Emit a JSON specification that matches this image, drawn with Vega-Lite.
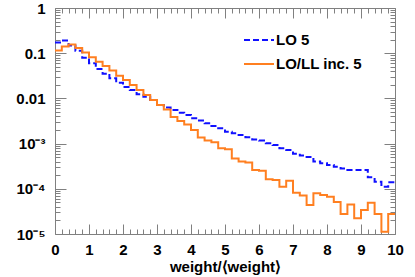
{
  "$schema": "https://vega.github.io/schema/vega-lite/v6.json",
  "width": 340,
  "height": 226,
  "autosize": {"type": "none"},
  "padding": {"left": 55, "top": 8, "right": 20, "bottom": 43},
  "background": "white",
  "config": {"view": {"stroke": null}, "font": "Liberation Sans"},
  "data": {"values": [
    {"x": 0, "v": 0.1725, "s": "LO 5"}, {"x": 0.2, "v": 0.191, "s": "LO 5"}, {"x": 0.4, "v": 0.148, "s": "LO 5"}, {"x": 0.6, "v": 0.1136, "s": "LO 5"}, {"x": 0.8, "v": 0.0795, "s": "LO 5"},
    {"x": 1.0, "v": 0.0598, "s": "LO 5"}, {"x": 1.2, "v": 0.0447, "s": "LO 5"}, {"x": 1.4, "v": 0.0352, "s": "LO 5"}, {"x": 1.6, "v": 0.0278, "s": "LO 5"}, {"x": 1.8, "v": 0.0223, "s": "LO 5"},
    {"x": 2.0, "v": 0.0179, "s": "LO 5"}, {"x": 2.2, "v": 0.0153, "s": "LO 5"}, {"x": 2.4, "v": 0.0123, "s": "LO 5"}, {"x": 2.6, "v": 0.0109, "s": "LO 5"}, {"x": 2.8, "v": 0.0092, "s": "LO 5"},
    {"x": 3.0, "v": 0.00715, "s": "LO 5"}, {"x": 3.2, "v": 0.0063, "s": "LO 5"}, {"x": 3.4, "v": 0.00554, "s": "LO 5"}, {"x": 3.6, "v": 0.00483, "s": "LO 5"}, {"x": 3.8, "v": 0.0043, "s": "LO 5"},
    {"x": 4.0, "v": 0.00363, "s": "LO 5"}, {"x": 4.2, "v": 0.00324, "s": "LO 5"}, {"x": 4.4, "v": 0.00281, "s": "LO 5"}, {"x": 4.6, "v": 0.00245, "s": "LO 5"}, {"x": 4.8, "v": 0.00218, "s": "LO 5"},
    {"x": 5.0, "v": 0.00183, "s": "LO 5"}, {"x": 5.2, "v": 0.00169, "s": "LO 5"}, {"x": 5.4, "v": 0.00155, "s": "LO 5"}, {"x": 5.6, "v": 0.00138, "s": "LO 5"}, {"x": 5.8, "v": 0.00124, "s": "LO 5"},
    {"x": 6.0, "v": 0.00117, "s": "LO 5"}, {"x": 6.2, "v": 0.00102, "s": "LO 5"}, {"x": 6.4, "v": 0.00093, "s": "LO 5"}, {"x": 6.6, "v": 0.00079, "s": "LO 5"}, {"x": 6.8, "v": 0.00072, "s": "LO 5"},
    {"x": 7.0, "v": 0.0006, "s": "LO 5"}, {"x": 7.2, "v": 0.000545, "s": "LO 5"}, {"x": 7.4, "v": 0.000505, "s": "LO 5"}, {"x": 7.6, "v": 0.0004, "s": "LO 5"}, {"x": 7.8, "v": 0.000367, "s": "LO 5"},
    {"x": 8.0, "v": 0.000336, "s": "LO 5"}, {"x": 8.2, "v": 0.000308, "s": "LO 5"}, {"x": 8.4, "v": 0.000281, "s": "LO 5"}, {"x": 8.6, "v": 0.000261, "s": "LO 5"}, {"x": 8.8, "v": 0.000261, "s": "LO 5"},
    {"x": 9.0, "v": 0.000261, "s": "LO 5"}, {"x": 9.2, "v": 0.00018, "s": "LO 5"}, {"x": 9.4, "v": 0.000144, "s": "LO 5"}, {"x": 9.6, "v": 0.000111, "s": "LO 5"}, {"x": 9.8, "v": 0.000139, "s": "LO 5"},
    {"x": 10, "v": 0.000139, "s": "LO 5"},
    {"x": 0, "v": 0.115, "s": "LO/LL inc. 5"}, {"x": 0.2, "v": 0.141, "s": "LO/LL inc. 5"}, {"x": 0.4, "v": 0.156, "s": "LO/LL inc. 5"}, {"x": 0.6, "v": 0.13, "s": "LO/LL inc. 5"}, {"x": 0.8, "v": 0.103, "s": "LO/LL inc. 5"},
    {"x": 1.0, "v": 0.081, "s": "LO/LL inc. 5"}, {"x": 1.2, "v": 0.065, "s": "LO/LL inc. 5"}, {"x": 1.4, "v": 0.052, "s": "LO/LL inc. 5"}, {"x": 1.6, "v": 0.0414, "s": "LO/LL inc. 5"}, {"x": 1.8, "v": 0.0316, "s": "LO/LL inc. 5"},
    {"x": 2.0, "v": 0.0255, "s": "LO/LL inc. 5"}, {"x": 2.2, "v": 0.0198, "s": "LO/LL inc. 5"}, {"x": 2.4, "v": 0.0153, "s": "LO/LL inc. 5"}, {"x": 2.6, "v": 0.0119, "s": "LO/LL inc. 5"}, {"x": 2.8, "v": 0.0092, "s": "LO/LL inc. 5"},
    {"x": 3.0, "v": 0.00715, "s": "LO/LL inc. 5"}, {"x": 3.2, "v": 0.00568, "s": "LO/LL inc. 5"}, {"x": 3.4, "v": 0.00388, "s": "LO/LL inc. 5"}, {"x": 3.6, "v": 0.00316, "s": "LO/LL inc. 5"}, {"x": 3.8, "v": 0.00265, "s": "LO/LL inc. 5"},
    {"x": 4.0, "v": 0.002, "s": "LO/LL inc. 5"}, {"x": 4.2, "v": 0.00136, "s": "LO/LL inc. 5"}, {"x": 4.4, "v": 0.00117, "s": "LO/LL inc. 5"}, {"x": 4.6, "v": 0.00107, "s": "LO/LL inc. 5"}, {"x": 4.8, "v": 0.00079, "s": "LO/LL inc. 5"},
    {"x": 5.0, "v": 0.00075, "s": "LO/LL inc. 5"}, {"x": 5.2, "v": 0.00047, "s": "LO/LL inc. 5"}, {"x": 5.4, "v": 0.0004, "s": "LO/LL inc. 5"}, {"x": 5.6, "v": 0.00038, "s": "LO/LL inc. 5"}, {"x": 5.8, "v": 0.00026, "s": "LO/LL inc. 5"},
    {"x": 6.0, "v": 0.00025, "s": "LO/LL inc. 5"}, {"x": 6.2, "v": 0.000162, "s": "LO/LL inc. 5"}, {"x": 6.4, "v": 0.000157, "s": "LO/LL inc. 5"}, {"x": 6.6, "v": 0.000111, "s": "LO/LL inc. 5"}, {"x": 6.8, "v": 0.000151, "s": "LO/LL inc. 5"},
    {"x": 7.0, "v": 0.000082, "s": "LO/LL inc. 5"}, {"x": 7.2, "v": 0.000071, "s": "LO/LL inc. 5"}, {"x": 7.4, "v": 0.000044, "s": "LO/LL inc. 5"}, {"x": 7.6, "v": 0.0000795, "s": "LO/LL inc. 5"}, {"x": 7.8, "v": 0.000073, "s": "LO/LL inc. 5"},
    {"x": 8.0, "v": 0.000067, "s": "LO/LL inc. 5"}, {"x": 8.2, "v": 0.000051, "s": "LO/LL inc. 5"}, {"x": 8.4, "v": 0.0000277, "s": "LO/LL inc. 5"}, {"x": 8.6, "v": 0.000045, "s": "LO/LL inc. 5"}, {"x": 8.8, "v": 0.0000222, "s": "LO/LL inc. 5"},
    {"x": 9.0, "v": 0.000034, "s": "LO/LL inc. 5"}, {"x": 9.2, "v": 0.000049, "s": "LO/LL inc. 5"}, {"x": 9.4, "v": 0.0000277, "s": "LO/LL inc. 5"}, {"x": 9.6, "v": 0.0000112, "s": "LO/LL inc. 5"}, {"x": 9.8, "v": 0.0000277, "s": "LO/LL inc. 5"},
    {"x": 10, "v": 0.0000277, "s": "LO/LL inc. 5"}
  ]},
  "layer": [
    {
      "mark": {"type": "line", "interpolate": "step-after", "strokeWidth": 2, "clip": true},
      "encoding": {
        "x": {"field": "x", "type": "quantitative",
          "scale": {"domain": [0, 10], "nice": false, "zero": false},
          "axis": {"orient": "bottom", "grid": false,
            "values": [0,0.2,0.4,0.6,0.8,1,1.2,1.4,1.6,1.8,2,2.2,2.4,2.6,2.8,3,3.2,3.4,3.6,3.8,4,4.2,4.4,4.6,4.8,5,5.2,5.4,5.6,5.8,6,6.2,6.4,6.6,6.8,7,7.2,7.4,7.6,7.8,8,8.2,8.4,8.6,8.8,9,9.2,9.4,9.6,9.8,10],
            "labelExpr": "abs(datum.value - round(datum.value)) < 0.01 ? format(datum.value, 'd') : ''",
            "tickSize": {"condition": {"test": "abs(datum.value - round(datum.value)) < 0.01", "value": -10}, "value": -5},
            "tickColor": "#808080", "domainColor": "#808080", "tickWidth": 1, "domainWidth": 1,
            "labelFont": "Liberation Sans", "labelFontSize": 15, "labelFontWeight": "bold", "labelColor": "black",
            "labelPadding": 18, "labelFlush": false, "labelOverlap": false,
            "title": "weight/⟨weight⟩", "titleFont": "Liberation Sans", "titleFontSize": 15, "titleFontWeight": "bold", "titleColor": "black",
            "titleAnchor": "middle", "titlePadding": -3}},
        "y": {"field": "v", "type": "quantitative",
          "scale": {"type": "log", "domain": [0.00001, 1], "nice": false, "zero": false},
          "axis": {"orient": "left", "grid": false,
            "values": [0.00001,0.00002,0.00003,0.00004,0.00005,0.00006,0.00007,0.00008,0.00009,0.0001,0.0002,0.0003,0.0004,0.0005,0.0006,0.0007,0.0008,0.0009,0.001,0.002,0.003,0.004,0.005,0.006,0.007,0.008,0.009,0.01,0.02,0.03,0.04,0.05,0.06,0.07,0.08,0.09,0.1,0.2,0.3,0.4,0.5,0.6,0.7,0.8,0.9,1],
            "labelExpr": "abs(log(datum.value)/LN10 - round(log(datum.value)/LN10)) > 0.01 ? '' : (datum.value > 0.5 ? '1' : datum.value > 0.05 ? '0.1' : datum.value > 0.005 ? '0.01' : round(log(datum.value)/LN10) == -3 ? '10⁻³' : round(log(datum.value)/LN10) == -4 ? '10⁻⁴' : '10⁻⁵')",
            "tickSize": {"condition": {"test": "abs(log(datum.value)/LN10 - round(log(datum.value)/LN10)) < 0.01", "value": -11}, "value": -5},
            "tickColor": "#808080", "domainColor": "#808080", "tickWidth": 1, "domainWidth": 1,
            "labelFont": "Liberation Sans", "labelFontSize": 15, "labelFontWeight": "bold", "labelColor": "black",
            "labelPadding": 21, "labelFlush": false, "labelOverlap": false, "title": null}},
        "color": {"field": "s", "type": "nominal",
          "scale": {"domain": ["LO 5", "LO/LL inc. 5"], "range": ["#1010ff", "#ff7f20"]},
          "legend": {"orient": "none", "legendX": 188, "legendY": 16, "title": null,
            "symbolType": "stroke", "symbolSize": 900, "symbolStrokeWidth": 2,
            "labelFont": "Liberation Sans", "labelFontSize": 15, "labelFontWeight": "bold", "labelColor": "black",
            "labelOffset": 1, "rowPadding": -3, "padding": 0}},
        "strokeDash": {"field": "s", "type": "nominal",
          "scale": {"domain": ["LO 5", "LO/LL inc. 5"], "range": [[6, 3], [1, 0]]},
          "legend": {"orient": "none", "legendX": 188, "legendY": 16, "title": null,
            "symbolType": "stroke", "symbolSize": 900, "symbolStrokeWidth": 2,
            "labelFont": "Liberation Sans", "labelFontSize": 15, "labelFontWeight": "bold", "labelColor": "black",
            "labelOffset": 1, "rowPadding": -3, "padding": 0}}
      }
    },
    {
      "mark": {"type": "line", "opacity": 0},
      "encoding": {
        "x": {"field": "x", "type": "quantitative",
          "scale": {"domain": [0, 10], "nice": false, "zero": false},
          "axis": {"orient": "top", "grid": false, "labels": false, "title": null,
            "values": [0,0.2,0.4,0.6,0.8,1,1.2,1.4,1.6,1.8,2,2.2,2.4,2.6,2.8,3,3.2,3.4,3.6,3.8,4,4.2,4.4,4.6,4.8,5,5.2,5.4,5.6,5.8,6,6.2,6.4,6.6,6.8,7,7.2,7.4,7.6,7.8,8,8.2,8.4,8.6,8.8,9,9.2,9.4,9.6,9.8,10],
            "tickSize": {"condition": {"test": "abs(datum.value - round(datum.value)) < 0.01", "value": -10}, "value": -5},
            "tickColor": "#808080", "domainColor": "#808080", "tickWidth": 1, "domainWidth": 1}},
        "y": {"field": "v", "type": "quantitative",
          "scale": {"type": "log", "domain": [0.00001, 1], "nice": false, "zero": false},
          "axis": {"orient": "right", "grid": false, "labels": false, "title": null,
            "values": [0.00001,0.00002,0.00003,0.00004,0.00005,0.00006,0.00007,0.00008,0.00009,0.0001,0.0002,0.0003,0.0004,0.0005,0.0006,0.0007,0.0008,0.0009,0.001,0.002,0.003,0.004,0.005,0.006,0.007,0.008,0.009,0.01,0.02,0.03,0.04,0.05,0.06,0.07,0.08,0.09,0.1,0.2,0.3,0.4,0.5,0.6,0.7,0.8,0.9,1],
            "tickSize": {"condition": {"test": "abs(log(datum.value)/LN10 - round(log(datum.value)/LN10)) < 0.01", "value": -11}, "value": -5},
            "tickColor": "#808080", "domainColor": "#808080", "tickWidth": 1, "domainWidth": 1}}
      }
    }
  ],
  "resolve": {"axis": {"x": "independent", "y": "independent"}}
}
